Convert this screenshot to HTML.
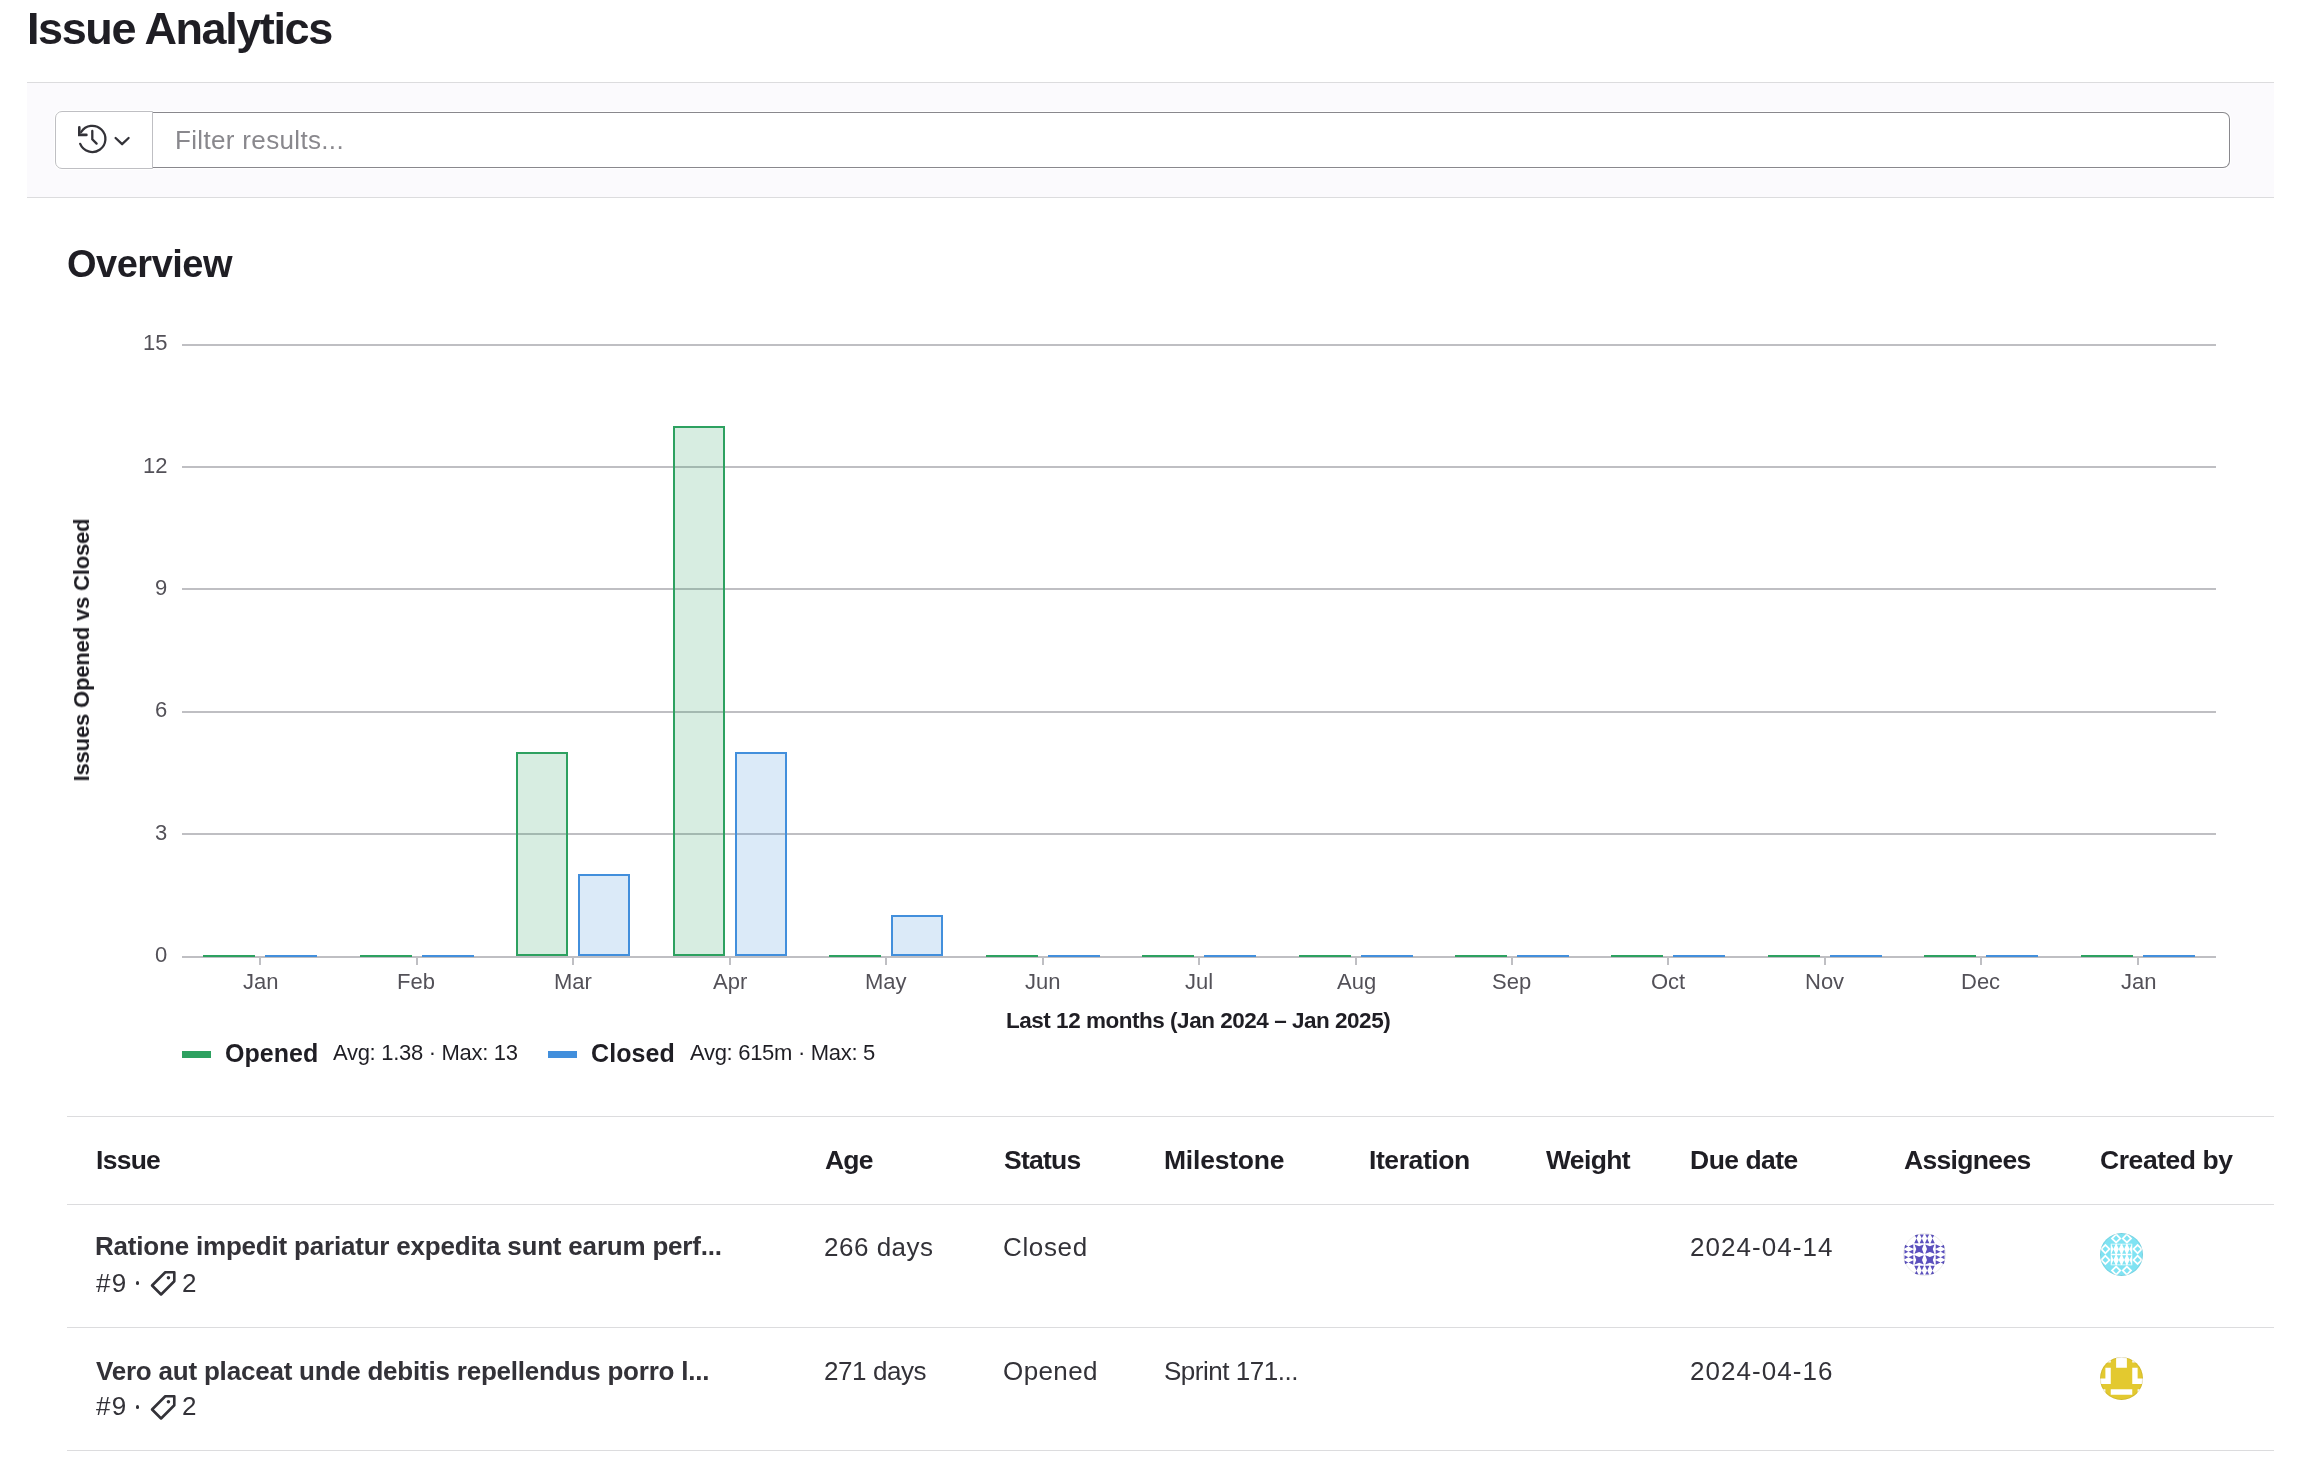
<!DOCTYPE html>
<html><head><meta charset="utf-8"><title>Issue Analytics</title>
<style>
html,body{margin:0;padding:0;background:#fff;}
body{width:2312px;height:1470px;position:relative;overflow:hidden;font-family:"Liberation Sans",sans-serif;}
.t{position:absolute;white-space:nowrap;line-height:1;will-change:transform;}
.ln{position:absolute;}
.abs{position:absolute;}
</style></head><body>
<!-- filter bar -->
<div class="abs" style="left:27px;top:82px;width:2247px;height:116px;background:#fbfafd;border-top:1px solid #dcdcde;border-bottom:1px solid #dcdcde;box-sizing:border-box"></div>
<div class="abs" style="left:152px;top:111px;width:2079px;height:58px;background:#fff;border-radius:0 8px 8px 0"></div>
<div class="abs" style="left:152px;top:112px;width:2078px;height:56px;border:1px solid #89888d;border-left:none;border-radius:0 7px 7px 0;box-sizing:border-box"></div>
<div class="abs" style="left:54px;top:110px;width:99px;height:60px;background:#fff;border-radius:8px 0 0 8px"></div>
<div class="abs" style="left:55px;top:111px;width:98px;height:58px;border:1px solid #bfbfc3;border-radius:7px 0 0 7px;box-sizing:border-box"></div>
<svg class="abs" style="left:76px;top:123px" width="32" height="32" viewBox="0 0 16 16" fill="none" stroke="#333238" stroke-width="1.15" stroke-linecap="round">
  <path d="M2.1 10.45 A6.55 6.55 0 1 0 2.6 4.5" />
  <path d="M1.65 2.2 V5.95 H5.2" stroke-linejoin="miter" stroke-width="1.3"/>
  <path d="M8.15 4 V8.1 L10.3 10.3" stroke-linejoin="miter"/>
</svg>
<svg class="abs" style="left:112px;top:131px" width="20" height="18" viewBox="0 0 20 18" fill="none" stroke="#333238" stroke-width="2.3" stroke-linecap="round" stroke-linejoin="round">
  <path d="M3.6 7 L10.1 13.2 L16.6 7"/>
</svg>

<!-- y axis title -->
<div class="t" style="left:82px;top:650px;font-size:22px;letter-spacing:-0.16px;font-weight:bold;color:#1f1e24;transform:translate(-50%,-50%) rotate(-90deg);">Issues Opened vs Closed</div>

<div class="ln" style="left:182px;top:956px;width:2034px;height:2px;background:#bfbfc3"></div>
<div class="ln" style="left:182px;top:833px;width:2034px;height:2px;background:#bfbfc3"></div>
<div class="ln" style="left:182px;top:711px;width:2034px;height:2px;background:#bfbfc3"></div>
<div class="ln" style="left:182px;top:588px;width:2034px;height:2px;background:#bfbfc3"></div>
<div class="ln" style="left:182px;top:466px;width:2034px;height:2px;background:#bfbfc3"></div>
<div class="ln" style="left:182px;top:344px;width:2034px;height:2px;background:#bfbfc3"></div>
<div class="ln" style="left:259.2px;top:957px;width:2px;height:8px;background:#bfbfc3"></div>
<div class="ln" style="left:203.2px;top:955px;width:52px;height:2px;background:#2da160"></div>
<div class="ln" style="left:265.2px;top:955px;width:52px;height:2px;background:#428fdc"></div>
<div class="ln" style="left:415.7px;top:957px;width:2px;height:8px;background:#bfbfc3"></div>
<div class="ln" style="left:359.7px;top:955px;width:52px;height:2px;background:#2da160"></div>
<div class="ln" style="left:421.7px;top:955px;width:52px;height:2px;background:#428fdc"></div>
<div class="ln" style="left:572.2px;top:957px;width:2px;height:8px;background:#bfbfc3"></div>
<div class="ln" style="left:516.2px;top:752.0px;width:52px;height:204.0px;background:rgba(45,161,96,0.19);border:2px solid #2da160;box-sizing:border-box"></div>
<div class="ln" style="left:578.2px;top:874.4px;width:52px;height:81.6px;background:rgba(66,143,220,0.19);border:2px solid #428fdc;box-sizing:border-box"></div>
<div class="ln" style="left:728.6px;top:957px;width:2px;height:8px;background:#bfbfc3"></div>
<div class="ln" style="left:672.6px;top:425.6px;width:52px;height:530.4px;background:rgba(45,161,96,0.19);border:2px solid #2da160;box-sizing:border-box"></div>
<div class="ln" style="left:734.6px;top:752.0px;width:52px;height:204.0px;background:rgba(66,143,220,0.19);border:2px solid #428fdc;box-sizing:border-box"></div>
<div class="ln" style="left:885.1px;top:957px;width:2px;height:8px;background:#bfbfc3"></div>
<div class="ln" style="left:829.1px;top:955px;width:52px;height:2px;background:#2da160"></div>
<div class="ln" style="left:891.1px;top:915.2px;width:52px;height:40.8px;background:rgba(66,143,220,0.19);border:2px solid #428fdc;box-sizing:border-box"></div>
<div class="ln" style="left:1041.5px;top:957px;width:2px;height:8px;background:#bfbfc3"></div>
<div class="ln" style="left:985.5px;top:955px;width:52px;height:2px;background:#2da160"></div>
<div class="ln" style="left:1047.5px;top:955px;width:52px;height:2px;background:#428fdc"></div>
<div class="ln" style="left:1198.0px;top:957px;width:2px;height:8px;background:#bfbfc3"></div>
<div class="ln" style="left:1142.0px;top:955px;width:52px;height:2px;background:#2da160"></div>
<div class="ln" style="left:1204.0px;top:955px;width:52px;height:2px;background:#428fdc"></div>
<div class="ln" style="left:1354.5px;top:957px;width:2px;height:8px;background:#bfbfc3"></div>
<div class="ln" style="left:1298.5px;top:955px;width:52px;height:2px;background:#2da160"></div>
<div class="ln" style="left:1360.5px;top:955px;width:52px;height:2px;background:#428fdc"></div>
<div class="ln" style="left:1510.9px;top:957px;width:2px;height:8px;background:#bfbfc3"></div>
<div class="ln" style="left:1454.9px;top:955px;width:52px;height:2px;background:#2da160"></div>
<div class="ln" style="left:1516.9px;top:955px;width:52px;height:2px;background:#428fdc"></div>
<div class="ln" style="left:1667.4px;top:957px;width:2px;height:8px;background:#bfbfc3"></div>
<div class="ln" style="left:1611.4px;top:955px;width:52px;height:2px;background:#2da160"></div>
<div class="ln" style="left:1673.4px;top:955px;width:52px;height:2px;background:#428fdc"></div>
<div class="ln" style="left:1823.8px;top:957px;width:2px;height:8px;background:#bfbfc3"></div>
<div class="ln" style="left:1767.8px;top:955px;width:52px;height:2px;background:#2da160"></div>
<div class="ln" style="left:1829.8px;top:955px;width:52px;height:2px;background:#428fdc"></div>
<div class="ln" style="left:1980.3px;top:957px;width:2px;height:8px;background:#bfbfc3"></div>
<div class="ln" style="left:1924.3px;top:955px;width:52px;height:2px;background:#2da160"></div>
<div class="ln" style="left:1986.3px;top:955px;width:52px;height:2px;background:#428fdc"></div>
<div class="ln" style="left:2136.8px;top:957px;width:2px;height:8px;background:#bfbfc3"></div>
<div class="ln" style="left:2080.8px;top:955px;width:52px;height:2px;background:#2da160"></div>
<div class="ln" style="left:2142.8px;top:955px;width:52px;height:2px;background:#428fdc"></div>

<!-- legend swatches -->
<div class="abs" style="left:182px;top:1051px;width:29px;height:7px;background:#2da160"></div>
<div class="abs" style="left:548px;top:1051px;width:29px;height:7px;background:#428fdc"></div>

<!-- table lines -->
<div class="abs" style="left:67px;top:1116px;width:2207px;height:1px;background:#dcdcde"></div>
<div class="abs" style="left:67px;top:1204px;width:2207px;height:1px;background:#dcdcde"></div>
<div class="abs" style="left:67px;top:1327px;width:2207px;height:1px;background:#dcdcde"></div>
<div class="abs" style="left:67px;top:1450px;width:2207px;height:1px;background:#dcdcde"></div>

<!-- tag icons -->
<svg class="abs" style="left:149px;top:1269px" width="28" height="28" viewBox="0 0 16 16" fill="none" stroke="#333238" stroke-width="1.5" stroke-linejoin="round">
  <path d="M9.3 1.85 H14.45 V7 L6.9 14.55 L1.75 9.4 Z"/>
  <circle cx="11.1" cy="5" r="1" fill="#333238" stroke="none"/>
</svg>
<svg class="abs" style="left:149px;top:1393px" width="28" height="28" viewBox="0 0 16 16" fill="none" stroke="#333238" stroke-width="1.5" stroke-linejoin="round">
  <path d="M9.3 1.85 H14.45 V7 L6.9 14.55 L1.75 9.4 Z"/>
  <circle cx="11.1" cy="5" r="1" fill="#333238" stroke="none"/>
</svg>

<svg class="abs" style="left:1903px;top:1233px" width="43" height="43" viewBox="0 0 43 43"><defs><clipPath id="c1903_1233"><circle cx="21.5" cy="21.5" r="21.5"/></clipPath></defs><g clip-path="url(#c1903_1233)"><rect width="43" height="43" fill="#fff"/><path d="M11.50 11.50 L16.12 13.22 L20.75 11.50 L19.03 16.12 L20.75 20.75 L16.12 19.03 L11.50 20.75 L13.22 16.12 Z" fill="#5b50bd"/><path d="M22.25 11.50 L26.88 13.22 L31.50 11.50 L29.78 16.12 L31.50 20.75 L26.88 19.03 L22.25 20.75 L23.97 16.12 Z" fill="#5b50bd"/><path d="M11.50 22.25 L16.12 23.97 L20.75 22.25 L19.03 26.88 L20.75 31.50 L16.12 29.78 L11.50 31.50 L13.22 26.88 Z" fill="#5b50bd"/><path d="M22.25 22.25 L26.88 23.97 L31.50 22.25 L29.78 26.88 L31.50 31.50 L26.88 29.78 L22.25 31.50 L23.97 26.88 Z" fill="#5b50bd"/><path d="M11.45 1.51 L15.43 1.51 L13.44 5.27 Z" fill="#5b50bd"/><path d="M11.23 10.32 L15.64 10.32 L13.44 5.48 Z" fill="#5b50bd"/><path d="M11.45 41.49 L15.43 41.49 L13.44 37.73 Z" fill="#5b50bd"/><path d="M11.23 32.68 L15.64 32.68 L13.44 37.52 Z" fill="#5b50bd"/><path d="M16.82 1.51 L20.80 1.51 L18.81 5.27 Z" fill="#5b50bd"/><path d="M16.61 10.32 L21.02 10.32 L18.81 5.48 Z" fill="#5b50bd"/><path d="M16.82 41.49 L20.80 41.49 L18.81 37.73 Z" fill="#5b50bd"/><path d="M16.61 32.68 L21.02 32.68 L18.81 37.52 Z" fill="#5b50bd"/><path d="M22.20 1.51 L26.18 1.51 L24.19 5.27 Z" fill="#5b50bd"/><path d="M21.98 10.32 L26.39 10.32 L24.19 5.48 Z" fill="#5b50bd"/><path d="M22.20 41.49 L26.18 41.49 L24.19 37.73 Z" fill="#5b50bd"/><path d="M21.98 32.68 L26.39 32.68 L24.19 37.52 Z" fill="#5b50bd"/><path d="M27.57 1.51 L31.55 1.51 L29.56 5.27 Z" fill="#5b50bd"/><path d="M27.36 10.32 L31.77 10.32 L29.56 5.48 Z" fill="#5b50bd"/><path d="M27.57 41.49 L31.55 41.49 L29.56 37.73 Z" fill="#5b50bd"/><path d="M27.36 32.68 L31.77 32.68 L29.56 37.52 Z" fill="#5b50bd"/><path d="M1.51 11.45 L1.51 15.43 L5.27 13.44 Z" fill="#5b50bd"/><path d="M10.32 11.23 L10.32 15.64 L5.48 13.44 Z" fill="#5b50bd"/><path d="M41.49 11.45 L41.49 15.43 L37.73 13.44 Z" fill="#5b50bd"/><path d="M32.68 11.23 L32.68 15.64 L37.52 13.44 Z" fill="#5b50bd"/><path d="M1.51 16.82 L1.51 20.80 L5.27 18.81 Z" fill="#5b50bd"/><path d="M10.32 16.61 L10.32 21.02 L5.48 18.81 Z" fill="#5b50bd"/><path d="M41.49 16.82 L41.49 20.80 L37.73 18.81 Z" fill="#5b50bd"/><path d="M32.68 16.61 L32.68 21.02 L37.52 18.81 Z" fill="#5b50bd"/><path d="M1.51 22.20 L1.51 26.18 L5.27 24.19 Z" fill="#5b50bd"/><path d="M10.32 21.98 L10.32 26.39 L5.48 24.19 Z" fill="#5b50bd"/><path d="M41.49 22.20 L41.49 26.18 L37.73 24.19 Z" fill="#5b50bd"/><path d="M32.68 21.98 L32.68 26.39 L37.52 24.19 Z" fill="#5b50bd"/><path d="M1.51 27.57 L1.51 31.55 L5.27 29.56 Z" fill="#5b50bd"/><path d="M10.32 27.36 L10.32 31.77 L5.48 29.56 Z" fill="#5b50bd"/><path d="M41.49 27.57 L41.49 31.55 L37.73 29.56 Z" fill="#5b50bd"/><path d="M32.68 27.36 L32.68 31.77 L37.52 29.56 Z" fill="#5b50bd"/></g><circle cx="21.5" cy="21.5" r="21.0" fill="none" stroke="rgba(0,0,0,0.08)" stroke-width="1"/></svg>
<svg class="abs" style="left:2100px;top:1233px" width="43" height="43" viewBox="0 0 43 43"><defs><clipPath id="c2100_1233"><circle cx="21.5" cy="21.5" r="21.5"/></clipPath></defs><g clip-path="url(#c2100_1233)"><rect width="43" height="43" fill="#80e3f3"/><path d="M16.12 0.00 L21.50 5.38 L16.12 10.75 L10.75 5.38 Z" fill="#fff"/><path d="M16.12 2.47 L19.03 5.38 L16.12 8.28 L13.22 5.38 Z" fill="#80e3f3"/><path d="M26.88 0.00 L32.25 5.38 L26.88 10.75 L21.50 5.38 Z" fill="#fff"/><path d="M26.88 2.47 L29.78 5.38 L26.88 8.28 L23.97 5.38 Z" fill="#80e3f3"/><path d="M5.38 10.75 L10.75 16.12 L5.38 21.50 L0.00 16.12 Z" fill="#fff"/><path d="M5.38 13.22 L8.28 16.12 L5.38 19.03 L2.47 16.12 Z" fill="#80e3f3"/><path d="M5.38 21.50 L10.75 26.88 L5.38 32.25 L0.00 26.88 Z" fill="#fff"/><path d="M5.38 23.97 L8.28 26.88 L5.38 29.78 L2.47 26.88 Z" fill="#80e3f3"/><path d="M37.62 10.75 L43.00 16.12 L37.62 21.50 L32.25 16.12 Z" fill="#fff"/><path d="M37.62 13.22 L40.53 16.12 L37.62 19.03 L34.72 16.12 Z" fill="#80e3f3"/><path d="M37.62 21.50 L43.00 26.88 L37.62 32.25 L32.25 26.88 Z" fill="#fff"/><path d="M37.62 23.97 L40.53 26.88 L37.62 29.78 L34.72 26.88 Z" fill="#80e3f3"/><path d="M16.12 32.25 L21.50 37.62 L16.12 43.00 L10.75 37.62 Z" fill="#fff"/><path d="M16.12 34.72 L19.03 37.62 L16.12 40.53 L13.22 37.62 Z" fill="#80e3f3"/><path d="M26.88 32.25 L32.25 37.62 L26.88 43.00 L21.50 37.62 Z" fill="#fff"/><path d="M26.88 34.72 L29.78 37.62 L26.88 40.53 L23.97 37.62 Z" fill="#80e3f3"/><rect x="10.75" y="10.75" width="21.50" height="21.50" fill="#fff"/><path d="M11.39 11.50 L15.48 11.50 L13.44 16.02 Z" fill="#80e3f3"/><path d="M11.39 20.75 L15.48 20.75 L13.44 16.23 Z" fill="#80e3f3"/><path d="M16.77 11.50 L20.86 11.50 L18.81 16.02 Z" fill="#80e3f3"/><path d="M16.77 20.75 L20.86 20.75 L18.81 16.23 Z" fill="#80e3f3"/><path d="M11.39 22.25 L15.48 22.25 L13.44 26.77 Z" fill="#80e3f3"/><path d="M11.39 31.50 L15.48 31.50 L13.44 26.98 Z" fill="#80e3f3"/><path d="M16.77 22.25 L20.86 22.25 L18.81 26.77 Z" fill="#80e3f3"/><path d="M16.77 31.50 L20.86 31.50 L18.81 26.98 Z" fill="#80e3f3"/><path d="M22.14 11.50 L26.23 11.50 L24.19 16.02 Z" fill="#80e3f3"/><path d="M22.14 20.75 L26.23 20.75 L24.19 16.23 Z" fill="#80e3f3"/><path d="M27.52 11.50 L31.61 11.50 L29.56 16.02 Z" fill="#80e3f3"/><path d="M27.52 20.75 L31.61 20.75 L29.56 16.23 Z" fill="#80e3f3"/><path d="M22.14 22.25 L26.23 22.25 L24.19 26.77 Z" fill="#80e3f3"/><path d="M22.14 31.50 L26.23 31.50 L24.19 26.98 Z" fill="#80e3f3"/><path d="M27.52 22.25 L31.61 22.25 L29.56 26.77 Z" fill="#80e3f3"/><path d="M27.52 31.50 L31.61 31.50 L29.56 26.98 Z" fill="#80e3f3"/></g><circle cx="21.5" cy="21.5" r="21.0" fill="none" stroke="rgba(0,0,0,0.08)" stroke-width="1"/></svg>
<svg class="abs" style="left:2100px;top:1357px" width="43" height="43" viewBox="0 0 43 43"><defs><clipPath id="c2100_1357"><circle cx="21.5" cy="21.5" r="21.5"/></clipPath></defs><g clip-path="url(#c2100_1357)"><rect width="43" height="43" fill="#e3c92f"/><path d="M0.00 0.00h5.38v5.38h-5.38ZM5.38 0.00h5.38v5.38h-5.38ZM16.12 0.00h5.38v5.38h-5.38ZM21.50 0.00h5.38v5.38h-5.38ZM32.25 0.00h5.38v5.38h-5.38ZM37.62 0.00h5.38v5.38h-5.38ZM16.12 5.38h5.38v5.38h-5.38ZM21.50 5.38h5.38v5.38h-5.38ZM5.38 10.75h5.38v5.38h-5.38ZM32.25 10.75h5.38v5.38h-5.38ZM5.38 16.12h5.38v5.38h-5.38ZM32.25 16.12h5.38v5.38h-5.38ZM0.00 21.50h5.38v5.38h-5.38ZM5.38 21.50h5.38v5.38h-5.38ZM32.25 21.50h5.38v5.38h-5.38ZM37.62 21.50h5.38v5.38h-5.38ZM0.00 32.25h5.38v5.38h-5.38ZM10.75 32.25h5.38v5.38h-5.38ZM16.12 32.25h5.38v5.38h-5.38ZM21.50 32.25h5.38v5.38h-5.38ZM26.88 32.25h5.38v5.38h-5.38ZM37.62 32.25h5.38v5.38h-5.38Z" fill="#fff"/></g><circle cx="21.5" cy="21.5" r="21.0" fill="none" stroke="rgba(0,0,0,0.08)" stroke-width="1"/></svg>
<div class="abs" style="left:135.9px;top:1281.3px;width:3.6px;height:3.6px;border-radius:50%;background:#333238"></div>
<div class="abs" style="left:135.9px;top:1405.1px;width:3.6px;height:3.6px;border-radius:50%;background:#333238"></div>

<div class="t" style="top:5.91px;left:26.70px;font-size:45px;font-weight:bold;color:#1f1e24;letter-spacing:-1.416px;">Issue Analytics</div>
<div class="t" style="top:126.79px;left:174.80px;font-size:26px;font-weight:normal;color:#89888d;letter-spacing:0.336px;">Filter results...</div>
<div class="t" style="top:244.83px;left:67.00px;font-size:38px;font-weight:bold;color:#1f1e24;letter-spacing:-0.491px;">Overview</div>
<div class="t" style="top:944.28px;left:155.00px;font-size:22px;font-weight:normal;color:#535158;">0</div>
<div class="t" style="top:821.88px;left:155.00px;font-size:22px;font-weight:normal;color:#535158;">3</div>
<div class="t" style="top:699.48px;left:155.00px;font-size:22px;font-weight:normal;color:#535158;">6</div>
<div class="t" style="top:577.08px;left:155.00px;font-size:22px;font-weight:normal;color:#535158;">9</div>
<div class="t" style="top:454.68px;left:142.76px;font-size:22px;font-weight:normal;color:#535158;">12</div>
<div class="t" style="top:332.28px;left:142.76px;font-size:22px;font-weight:normal;color:#535158;">15</div>
<div class="t" style="top:970.68px;left:243.11px;font-size:22px;font-weight:normal;color:#535158;">Jan</div>
<div class="t" style="top:970.68px;left:397.36px;font-size:22px;font-weight:normal;color:#535158;">Feb</div>
<div class="t" style="top:970.68px;left:553.87px;font-size:22px;font-weight:normal;color:#535158;">Mar</div>
<div class="t" style="top:970.68px;left:712.66px;font-size:22px;font-weight:normal;color:#535158;">Apr</div>
<div class="t" style="top:970.68px;left:864.80px;font-size:22px;font-weight:normal;color:#535158;">May</div>
<div class="t" style="top:970.68px;left:1025.42px;font-size:22px;font-weight:normal;color:#535158;">Jun</div>
<div class="t" style="top:970.68px;left:1185.38px;font-size:22px;font-weight:normal;color:#535158;">Jul</div>
<div class="t" style="top:970.68px;left:1336.51px;font-size:22px;font-weight:normal;color:#535158;">Aug</div>
<div class="t" style="top:970.68px;left:1491.97px;font-size:22px;font-weight:normal;color:#535158;">Sep</div>
<div class="t" style="top:970.68px;left:1650.83px;font-size:22px;font-weight:normal;color:#535158;">Oct</div>
<div class="t" style="top:970.68px;left:1804.78px;font-size:22px;font-weight:normal;color:#535158;">Nov</div>
<div class="t" style="top:970.68px;left:1961.25px;font-size:22px;font-weight:normal;color:#535158;">Dec</div>
<div class="t" style="top:970.68px;left:2120.65px;font-size:22px;font-weight:normal;color:#535158;">Jan</div>
<div class="t" style="top:1009.95px;left:1006.30px;font-size:22.5px;font-weight:bold;color:#1f1e24;letter-spacing:-0.479px;">Last 12 months (Jan 2024 – Jan 2025)</div>
<div class="t" style="top:1041.24px;left:225.20px;font-size:25px;font-weight:bold;color:#1f1e24;letter-spacing:0.041px;">Opened</div>
<div class="t" style="top:1042.18px;left:333.20px;font-size:22px;font-weight:normal;color:#1f1e24;letter-spacing:-0.296px;">Avg: 1.38 · Max: 13</div>
<div class="t" style="top:1041.24px;left:591.00px;font-size:25px;font-weight:bold;color:#1f1e24;letter-spacing:0.104px;">Closed</div>
<div class="t" style="top:1042.18px;left:689.50px;font-size:22px;font-weight:normal;color:#1f1e24;letter-spacing:-0.300px;">Avg: 615m · Max: 5</div>
<div class="t" style="top:1146.57px;left:95.90px;font-size:26.5px;font-weight:bold;color:#1f1e24;letter-spacing:-0.731px;">Issue</div>
<div class="t" style="top:1146.57px;left:824.70px;font-size:26.5px;font-weight:bold;color:#1f1e24;letter-spacing:-0.812px;">Age</div>
<div class="t" style="top:1146.57px;left:1003.60px;font-size:26.5px;font-weight:bold;color:#1f1e24;letter-spacing:-0.770px;">Status</div>
<div class="t" style="top:1146.57px;left:1163.80px;font-size:26.5px;font-weight:bold;color:#1f1e24;letter-spacing:-0.209px;">Milestone</div>
<div class="t" style="top:1146.57px;left:1368.50px;font-size:26.5px;font-weight:bold;color:#1f1e24;letter-spacing:-0.419px;">Iteration</div>
<div class="t" style="top:1146.57px;left:1546.40px;font-size:26.5px;font-weight:bold;color:#1f1e24;letter-spacing:-0.662px;">Weight</div>
<div class="t" style="top:1146.57px;left:1689.60px;font-size:26.5px;font-weight:bold;color:#1f1e24;letter-spacing:-0.511px;">Due date</div>
<div class="t" style="top:1146.57px;left:1903.90px;font-size:26.5px;font-weight:bold;color:#1f1e24;letter-spacing:-0.666px;">Assignees</div>
<div class="t" style="top:1146.57px;left:2099.50px;font-size:26.5px;font-weight:bold;color:#1f1e24;letter-spacing:-0.436px;">Created by</div>
<div class="t" style="top:1233.49px;left:95.20px;font-size:26px;font-weight:bold;color:#333238;letter-spacing:-0.198px;">Ratione impedit pariatur expedita sunt earum perf...</div>
<div class="t" style="top:1233.99px;left:824.40px;font-size:26px;font-weight:normal;color:#333238;letter-spacing:0.511px;">266 days</div>
<div class="t" style="top:1233.99px;left:1002.60px;font-size:26px;font-weight:normal;color:#333238;letter-spacing:0.645px;">Closed</div>
<div class="t" style="top:1233.69px;left:1689.90px;font-size:26px;font-weight:normal;color:#333238;letter-spacing:1.052px;">2024-04-14</div>
<div class="t" style="top:1357.79px;left:96.20px;font-size:26px;font-weight:bold;color:#333238;letter-spacing:-0.208px;">Vero aut placeat unde debitis repellendus porro l...</div>
<div class="t" style="top:1358.29px;left:824.40px;font-size:26px;font-weight:normal;color:#333238;letter-spacing:-0.418px;">271 days</div>
<div class="t" style="top:1358.29px;left:1002.60px;font-size:26px;font-weight:normal;color:#333238;letter-spacing:0.407px;">Opened</div>
<div class="t" style="top:1358.29px;left:1164.00px;font-size:26px;font-weight:normal;color:#333238;letter-spacing:-0.481px;">Sprint 171...</div>
<div class="t" style="top:1357.99px;left:1689.90px;font-size:26px;font-weight:normal;color:#333238;letter-spacing:1.052px;">2024-04-16</div>
<div class="t" style="top:1269.69px;left:96.00px;font-size:26px;font-weight:normal;color:#333238;letter-spacing:1.340px;">#9</div>
<div class="t" style="top:1269.69px;left:181.50px;font-size:26px;font-weight:normal;color:#333238;">2</div>
<div class="t" style="top:1393.49px;left:96.00px;font-size:26px;font-weight:normal;color:#333238;letter-spacing:1.340px;">#9</div>
<div class="t" style="top:1393.49px;left:181.50px;font-size:26px;font-weight:normal;color:#333238;">2</div>
</body></html>
